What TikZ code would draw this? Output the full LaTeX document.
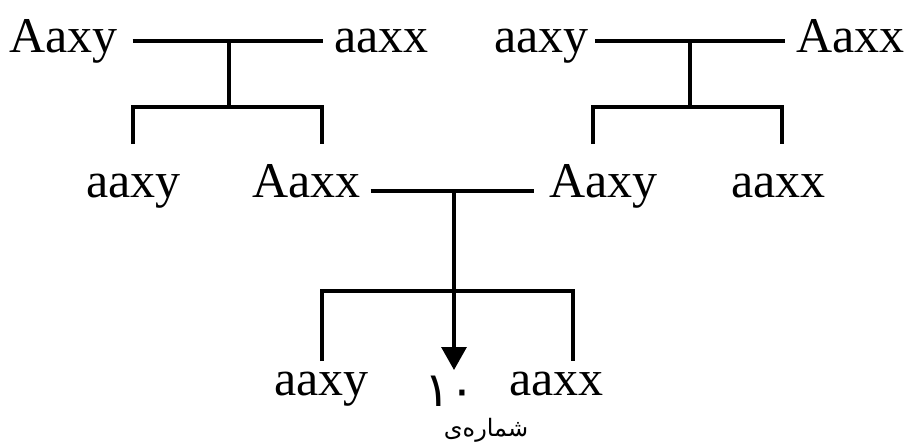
\documentclass[tikz,border=0pt]{standalone}
\usepackage{fontspec}
\setmainfont{Liberation Serif}
\newfontfamily\arabicfont[Script=Arabic]{DejaVu Sans}
\TeXXeTstate=1
\usetikzlibrary{arrows.meta}
\begin{document}
\begin{tikzpicture}[x=1pt,y=-1pt,
  geno/.style={inner sep=0pt,font=\fontsize{50}{50}\selectfont},
  wire/.style={line width=3.2pt,line cap=butt,line join=miter}]
\useasboundingbox (0,0) rectangle (905,447);

% first cross (left)
\node[geno,anchor=base west] (la) at (9,52) {Aaxy};
\node[geno,anchor=base west] (lb) at (334,52) {aaxx};
\coordinate (lj) at (229,41);
\coordinate (lk) at (229,107);
\coordinate (ll) at (133,144);
\coordinate (lr) at (322,144);
\node[geno,anchor=base west] (lc) at (86,197) {aaxy};
\node[geno,anchor=base west] (ld) at (252,197) {Aaxx};
\draw[wire] ([xshift=15pt]la.east |- lj) -- ([xshift=-11pt]lb.west |- lj);
\draw[wire] (lj) -- (lk);
\draw[wire] (ll) -- (ll |- lk) -- (lr |- lk) -- (lr);

% second cross (right)
\node[geno,anchor=base west] (ra) at (494,52) {aaxy};
\node[geno,anchor=base west] (rb) at (796,52) {Aaxx};
\coordinate (rj) at (690,41);
\coordinate (rk) at (690,107);
\coordinate (rl) at (593,144);
\coordinate (rr) at (782,144);
\node[geno,anchor=base west] (rc) at (549,197) {Aaxy};
\node[geno,anchor=base west] (rd) at (731,197) {aaxx};
\draw[wire] ([xshift=6pt]ra.east |- rj) -- ([xshift=-11pt]rb.west |- rj);
\draw[wire] (rj) -- (rk);
\draw[wire] (rl) -- (rl |- rk) -- (rr |- rk) -- (rr);

% cross of the offspring
\coordinate (mj) at (454,191);
\coordinate (mk) at (454,291);
\coordinate (ml) at (322,361);
\coordinate (mr) at (573,361);
\draw[wire] ([xshift=10pt]ld.east |- mj) -- ([xshift=-15pt]rc.west |- mj);
\draw[wire] (ml) -- (ml |- mk) -- (mr |- mk) -- (mr);
\node[geno,anchor=base west] (ma) at (274,395) {aaxy};
\node[geno,anchor=base west] (mb) at (509,395) {aaxx};
\node[inner sep=0pt,font=\arabicfont\fontsize{48}{48}\selectfont] (num) at (450,391) {١٠};
\node[inner sep=0pt,font=\arabicfont\fontsize{24}{24}\selectfont] (lab) at (486,430) {\beginR شماره‌ی\endR};
\coordinate (tip) at (454,370);
\draw[wire,-{Triangle[width=25pt,length=23pt]}] (mj) -- (tip);
\end{tikzpicture}
\end{document}
